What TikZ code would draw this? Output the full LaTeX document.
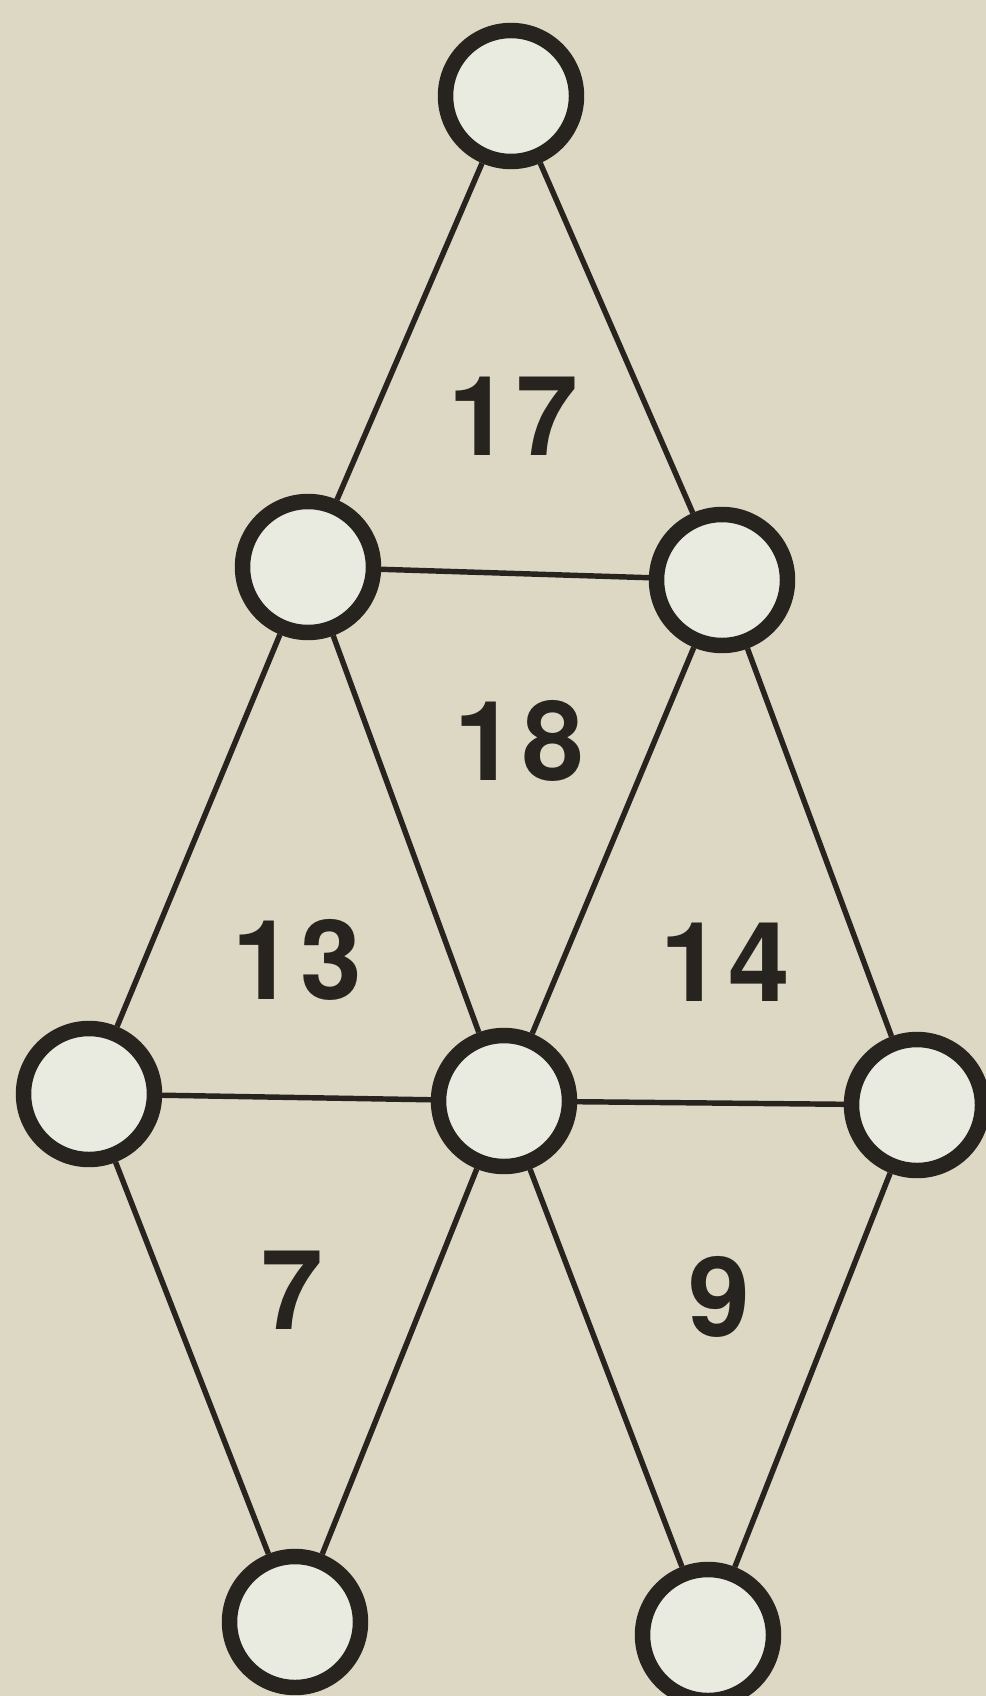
\documentclass[tikz,border=0pt]{standalone}
\usepackage{fontspec}
\newfontfamily\sumfont[LetterSpace=6]{TeX Gyre Heros}
\usetikzlibrary{positioning}
\definecolor{paper}{HTML}{DCD8C3}
\definecolor{spotFill}{HTML}{E9EBE1}
\definecolor{ink}{HTML}{27231F}

\begin{document}
\begin{tikzpicture}[x=0.02cm,y=-0.02cm,
    spot/.style={circle,draw=ink,fill=spotFill,line width=8.8pt,minimum size=2.62cm,inner sep=0pt},
    edge/.style={draw=ink,line width=3.1pt},
    sum/.style={text=ink,font=\sumfont\fontsize{63}{63}\selectfont\bfseries,inner sep=0pt}]
  \fill[paper] (0,0) rectangle (986,1696);
  \useasboundingbox (0,0) rectangle (986,1696);
  % circles
  \foreach \n/\x/\y in {top/511/96,midL/308/567,midR/722/580,rowL/89/1094,
      rowC/504/1101,rowR/917/1105,botL/295/1622,botR/708/1635} {
    \node[spot] (\n) at (\x,\y) {};
  }
  % lines
  \foreach \a/\b in {top/midL,top/midR,midL/midR,midL/rowL,midL/rowC,midR/rowC,
      midR/rowR,rowL/rowC,rowC/rowR,rowL/botL,rowC/botL,rowC/botR,rowR/botR} {
    \draw[edge] (\a) -- (\b);
  }
  % triangle sums
  \node[sum] (s17) at (513,416) {17};
  \node[sum] (s18) at (519,741) {18};
  \node[sum] (s13) at (297,960) {13};
  \node[sum] (s14) at (725,962) {14};
  \node[sum] (s7) at (292,1290) {7};
  \node[sum] (s9) at (719,1297) {9};
\end{tikzpicture}
\end{document}
